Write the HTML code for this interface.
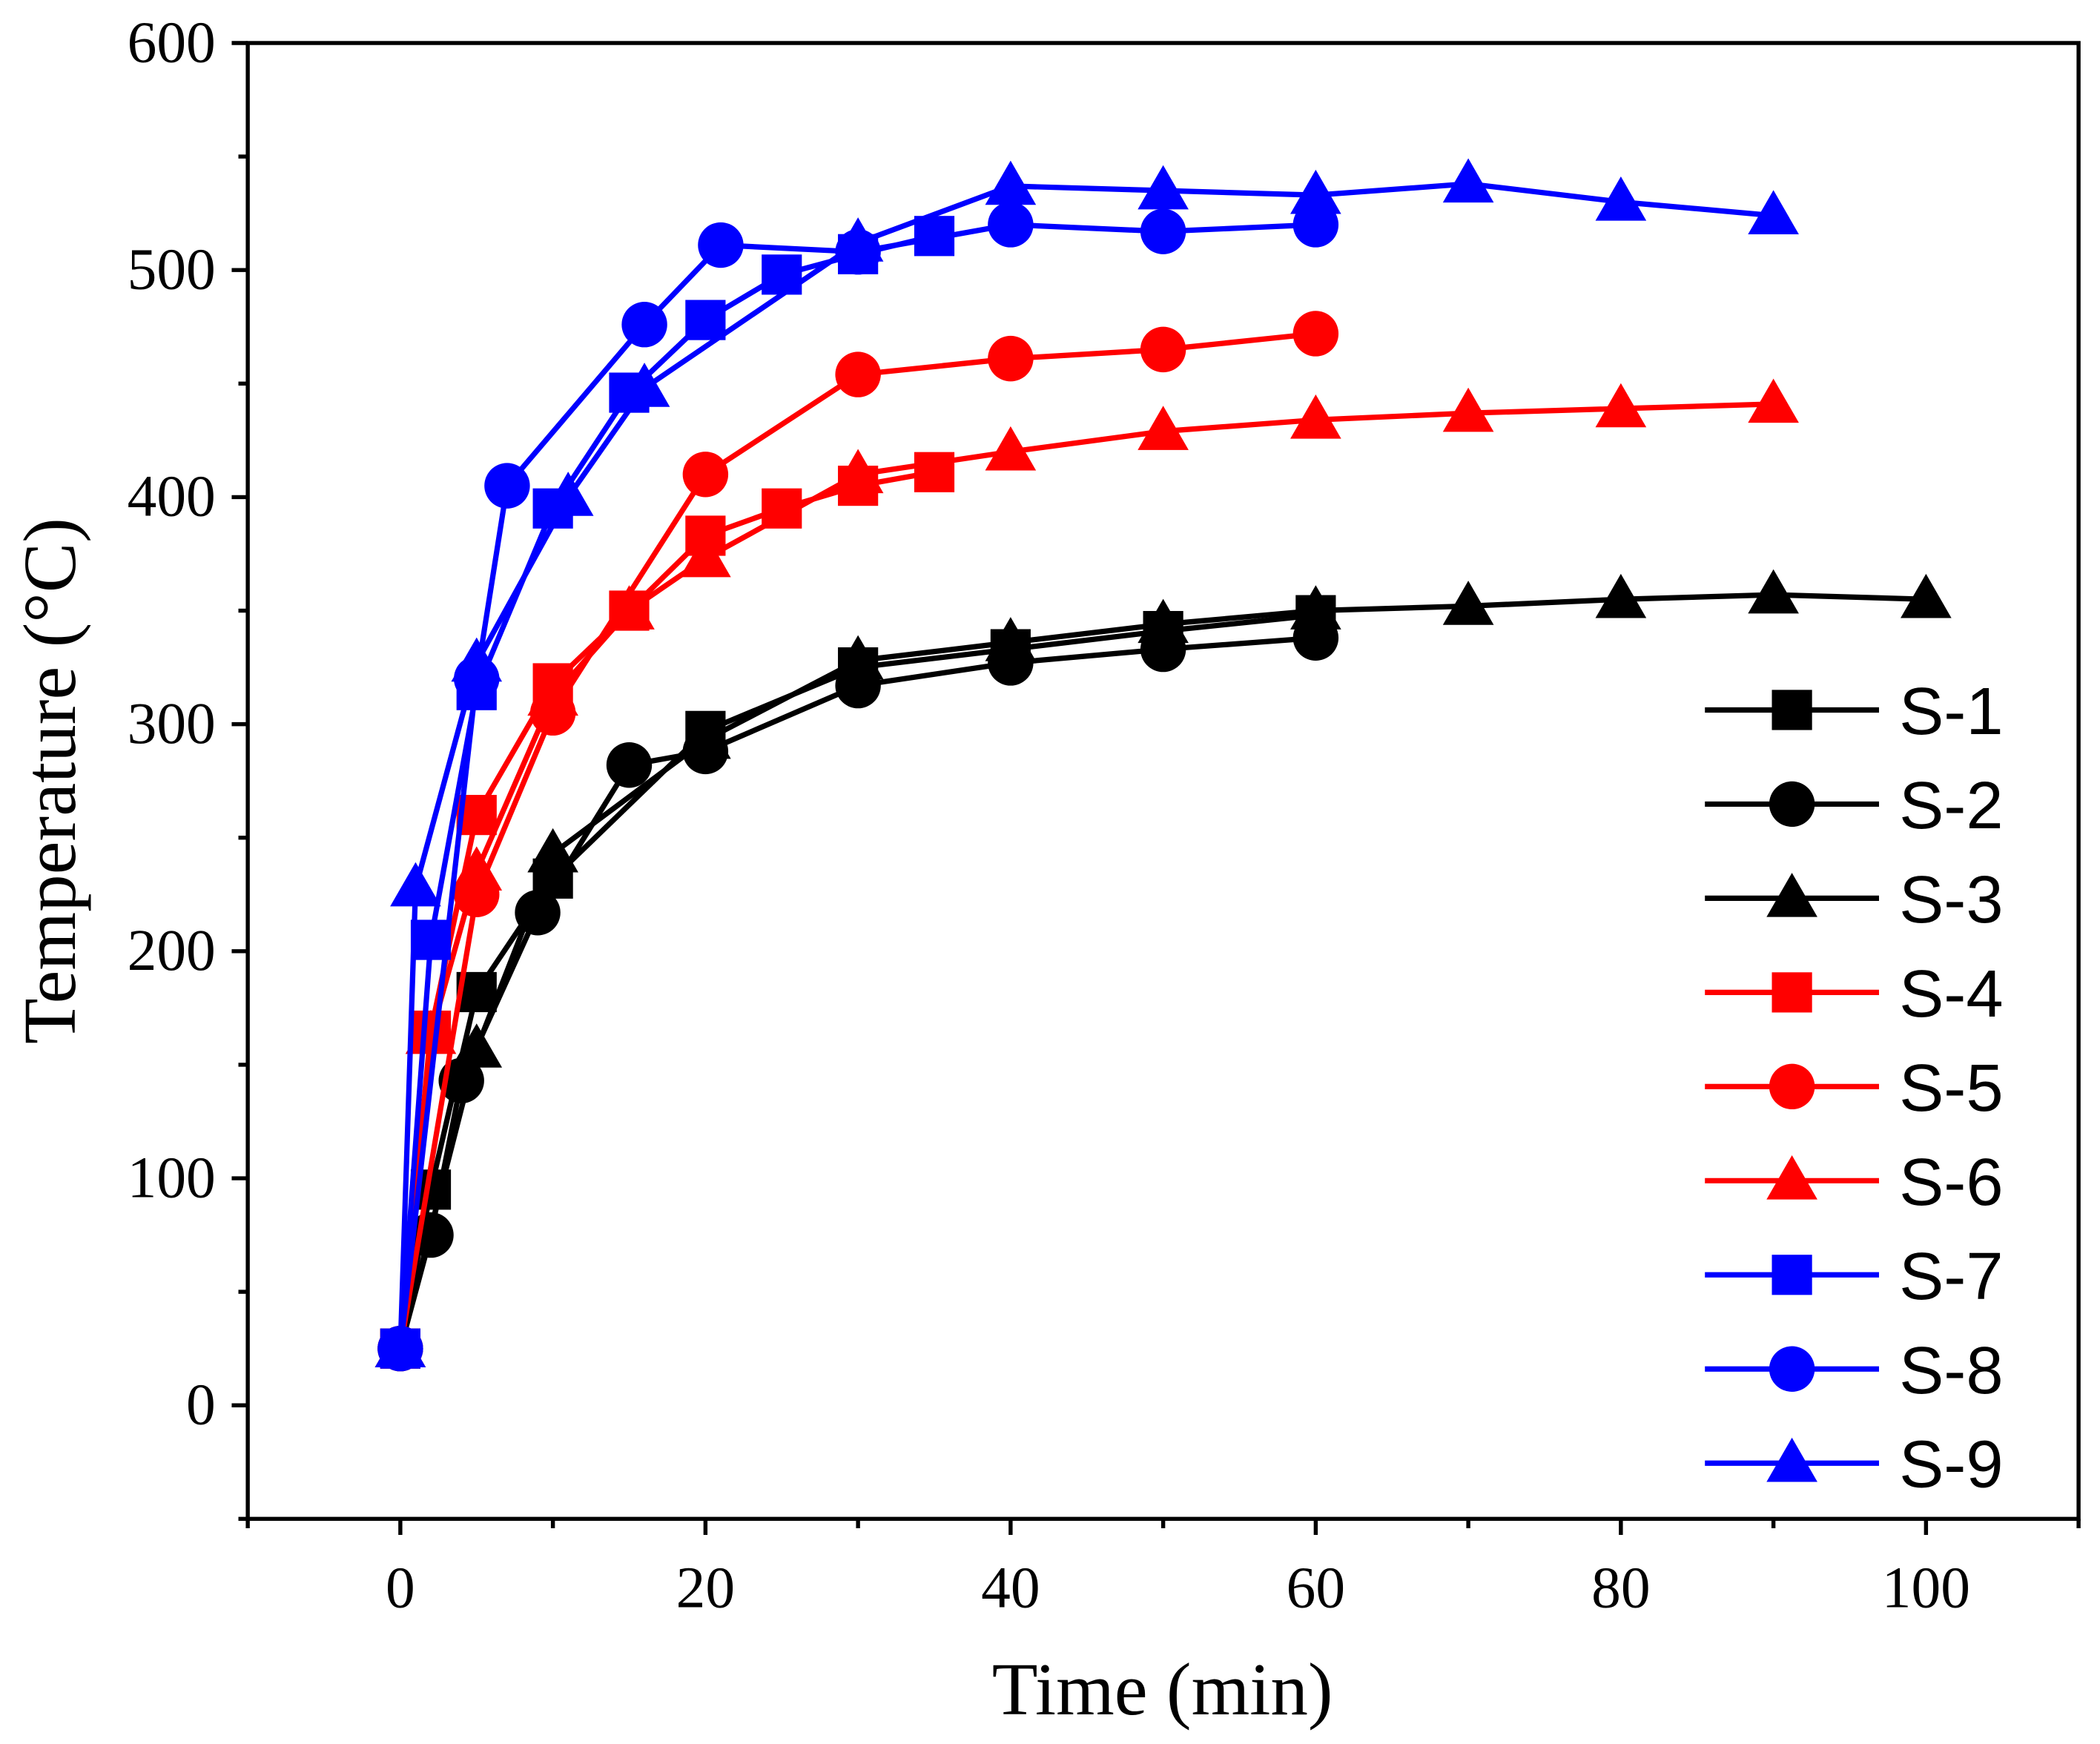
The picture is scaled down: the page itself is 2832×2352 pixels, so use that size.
<!DOCTYPE html>
<html><head><meta charset="utf-8"><style>html,body{margin:0;padding:0;background:#fff}svg{display:block}</style></head>
<body>
<svg id="chart" width="2832" height="2352" viewBox="0 0 1568 1302" xmlns="http://www.w3.org/2000/svg">
<rect width="1568" height="1302" fill="#fff"/>
<g id="axes"></g>
<g id="series"></g>
<g id="legend"></g>
</svg>
<script>
const xS1=[0,2,5,10,20,30,40,50,60], yS1=[25,95,182,232,297,325,333,341,348];
const xS2=[0,2,4,9,15,20,30,40,50,60], yS2=[25,75,143,217,282,288,317,327,333,338];
const xS3=[0,5,10,20,30,40,50,60,70,80,90,100], yS3=[25,157,243,293,328,336,344,350,352,355,357,355];
const xS4=[0,2,5,10,15,20,25,30,35], yS4=[25,165,260,318,350,383,395,405,411];
const xS5=[0,5,10,20,30,40,50,60], yS5=[25,225,305,410,454,461,465,472];
const xS6=[0,2,5,10,15,20,30,40,50,60,70,80,90], yS6=[25,163,235,312,350,373,410,420,429,434,437,439,441];
const xS7=[0,2,5,10,15,20,25,30,35], yS7=[25,205,315,395,446,478,498,507,515];
const xS8=[0,5,7,16,21,30,40,50,60], yS8=[25,320,405,476,511,508,520,517,520];
const xS9=[0,1,5,11,16,30,40,50,60,70,80,90], yS9=[25,228,327,400,448,512,537,535,533,538,530,524];
const seriesNames=["S-1","S-2","S-3","S-4","S-5","S-6","S-7","S-8","S-9"];
const xTicks=[0,20,40,60,80,100];
const yTicks=[0,100,200,300,400,500,600];

const NS="http://www.w3.org/2000/svg";
const L=185,R=1552,T=32,B=1134;
const sx=v=>L+(v+10)/120*(R-L);
const sy=v=>B-(v+50)/650*(B-T);
function mk(tag,attrs,parent){const e=document.createElementNS(NS,tag);for(const k in attrs)e.setAttribute(k,attrs[k]);parent.appendChild(e);return e;}
const axes=document.getElementById('axes');
const frame=mk('rect',{x:L,y:T,width:R-L,height:B-T,fill:'none',stroke:'#000','stroke-width':3},axes);


for(let v=-10;v<=110;v+=10){
  const major=v%20===0;
  const t=mk('line',{x1:sx(v),x2:sx(v),y1:B,y2:B+(major?12:7),stroke:'#000','stroke-width':3},axes);
  
  
}
for(let v=-50;v<=600;v+=50){
  const major=v%100===0&&v>=0;
  const t=mk('line',{x1:L-(major?12:7),x2:L,y1:sy(v),y2:sy(v),stroke:'#000','stroke-width':3},axes);
  
  
}
xTicks.forEach(v=>{
  const t=mk('text',{x:sx(v),y:B+66,'text-anchor':'middle','font-family':'Liberation Serif, serif','font-size':44},axes);
  t.textContent=v;
  
  
});
yTicks.forEach(v=>{
  const t=mk('text',{x:L-24,y:sy(v)+14,'text-anchor':'end','font-family':'Liberation Serif, serif','font-size':44},axes);
  t.textContent=v;
  
  
});
const xt=mk('text',{x:868,y:1280,'text-anchor':'middle','font-family':'Liberation Serif, serif','font-size':56},axes);
xt.textContent='Time (min)';


const yt=mk('text',{x:0,y:0,'text-anchor':'middle','font-family':'Liberation Serif, serif','font-size':56,transform:'translate(56,583) rotate(-90)'},axes);
yt.textContent='Temperature (°C)';



function marker(shape,cx,cy,color,parent){
  if(shape==='s')return mk('rect',{x:cx-15,y:cy-15,width:30,height:30,fill:color},parent);
  if(shape==='c')return mk('circle',{cx:cx,cy:cy,r:17,fill:color},parent);
  return mk('polygon',{points:`${cx},${cy-19} ${cx+19},${cy+14} ${cx-19},${cy+14}`,fill:color},parent);
}
const data=[[xS1,yS1,'#000','s'],[xS2,yS2,'#000','c'],[xS3,yS3,'#000','t'],[xS4,yS4,'#ff0000','s'],[xS5,yS5,'#ff0000','c'],[xS6,yS6,'#ff0000','t'],[xS7,yS7,'#0000ff','s'],[xS8,yS8,'#0000ff','c'],[xS9,yS9,'#0000ff','t']];
const sg=document.getElementById('series');
const lg=document.getElementById('legend');
data.forEach((d,i)=>{
  const [xs,ys,col,sh]=d;
  const g=mk('g',{},sg);
  
  
  mk('polyline',{points:xs.map((x,j)=>sx(x)+','+sy(ys[j])).join(' '),fill:'none',stroke:col,'stroke-width':4,'stroke-linejoin':'round'},g);
  xs.forEach((x,j)=>{
    const m=marker(sh,sx(x),sy(ys[j]),col,g);
    
    
  });
  const ly=530+i*70.3;
  const le=mk('g',{},lg);
  
  
  mk('line',{x1:1273,x2:1403,y1:ly,y2:ly,stroke:col,'stroke-width':4},le);
  marker(sh,1338,ly,col,le);
  const t=mk('text',{x:1418,y:ly+18,'font-family':'Liberation Sans, sans-serif','font-size':50},le);
  t.textContent=seriesNames[i];
});
</script>
</body></html>
